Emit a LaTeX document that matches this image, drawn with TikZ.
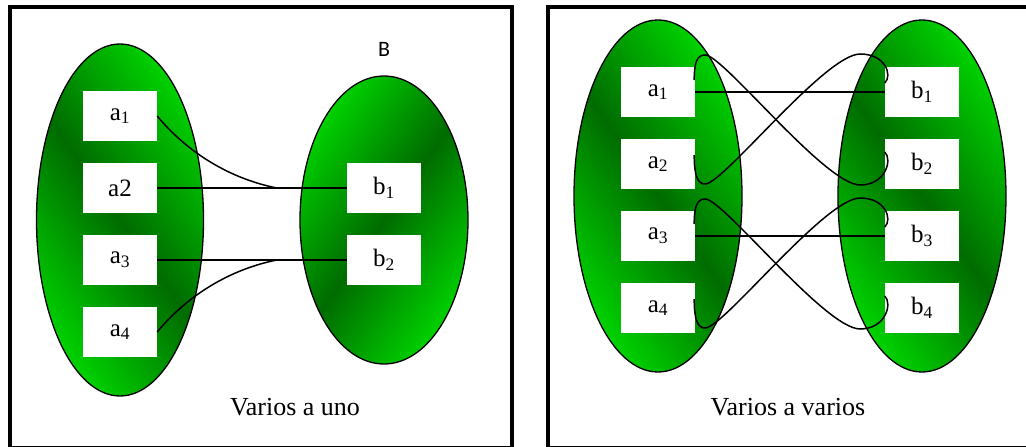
\documentclass[tikz,border=0pt]{standalone}
\usepackage{fontspec}
\setmainfont{Liberation Serif}
\newfontfamily\calibrifont{Carlito}
\usetikzlibrary{shapes.geometric}
\definecolor{lightgreen}{RGB}{0,230,0}
\definecolor{deepgreen}{RGB}{0,108,0}
\newcommand{\idx}[1]{\textsubscript{#1}}
\pgfdeclareverticalshading{greenband}{100bp}{color(0bp)=(lightgreen); color(20bp)=(lightgreen); color(50bp)=(deepgreen); color(80bp)=(lightgreen); color(100bp)=(lightgreen)}
\tikzset{
  set/.style={draw, ellipse, line width=1.3pt, shading=greenband, inner sep=0pt},
  elem/.style={fill=white, minimum width=74pt, minimum height=50pt, inner sep=0pt, font=\fontsize{25}{30}\selectfont},
  caption/.style={font=\fontsize{26}{30}\selectfont},
  frame/.style={draw, line width=4pt},
  link/.style={line width=1.5pt},
}
\begin{document}
\begin{tikzpicture}[x=1pt, y=-1pt]
  \useasboundingbox (0,0) rectangle (1026,447);
  % frames
  \draw[frame] (10,7) rectangle (511.5,448);
  \draw[frame] (548,7) rectangle (1032,448);

  % varios a uno
  \node[set, minimum width=167pt, minimum height=352pt, shading angle=-55] (A) at (120,220) {};
  \node[set, minimum width=168pt, minimum height=288pt, shading angle=55] (B) at (384,220) {};
  \node[font=\calibrifont\fontsize{22}{26}\selectfont] (Bname) at (384,49) {B};
  \node[elem] (a1) at (120,116) {a\idx{1}};
  \node[elem] (a2) at (120,188) {a2};
  \node[elem] (a3) at (120,260) {a\idx{3}};
  \node[elem] (a4) at (120,332) {a\idx{4}};
  \node[elem] (b1) at (384,188) {b\idx{1}};
  \node[elem] (b2) at (384,260) {b\idx{2}};
  \coordinate (j1) at ([xshift=-70pt]b1.west);
  \coordinate (j2) at ([xshift=-70pt]b2.west);
  \draw[link] (a2.east) -- (b1.west);
  \draw[link] (a3.east) -- (b2.west);
  \draw[link] (a1.east) .. controls +(28,34) and +(-50,-10) .. (j1);
  \draw[link] (a4.east) .. controls +(28,-34) and +(-50,10) .. (j2);
  \node[caption] (uno) at (295,407) {Varios a uno};

  % varios a varios
  \node[set, minimum width=168pt, minimum height=352pt, shading angle=-55] (RA) at (658,196) {};
  \node[set, minimum width=168pt, minimum height=352pt, shading angle=-55] (RB) at (922,196) {};
  \foreach \i/\y in {1/92, 2/164, 3/236, 4/308} {
    \node[elem] (ra\i) at (658,\y) {a\idx{\i}};
    \node[elem] (rb\i) at (922,\y) {b\idx{\i}};
  }
  \foreach \u/\d in {1/2, 3/4} {
    \draw[link] (ra\u.east) -- (rb\u.west);
    \draw[link] ([shift={(-1,-12)}]ra\u.east) .. controls +(0,-18) and +(-8,0) .. ++(11,-25)
      .. controls +(18,0) and +(-35,0) .. ++(155,130)
      .. controls +(25,0) and +(8,8) .. ([shift={(0,-12)}]rb\d.west);
    \draw[link] ([shift={(-1,-9)}]ra\d.east) .. controls +(0,20) and +(-8,0) .. ++(11,29)
      .. controls +(18,0) and +(-35,0) .. ++(155,-130)
      .. controls +(25,0) and +(8,-8) .. ([shift={(0,-9)}]rb\u.west);
  }
  \node[caption] (varios) at (788,407) {Varios a varios};
\end{tikzpicture}
\end{document}
